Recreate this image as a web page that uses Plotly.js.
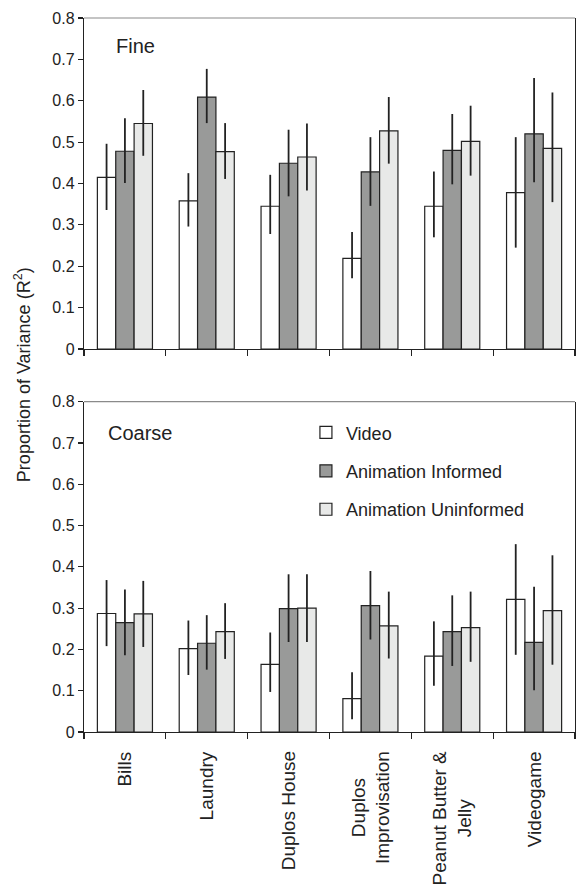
<!DOCTYPE html>
<html>
<head>
<meta charset="utf-8">
<script src="https://cdn.plot.ly/plotly-3.0.1.min.js"></script>
<style>html,body{margin:0;padding:0;background:#fff;}#chart{width:578px;height:887px;}</style>
</head>
<body>
<div id="chart"></div>
<script>
// ---- data ----
const categories = ['Bills', 'Laundry', 'Duplos House', 'Duplos Improvisation', 'Peanut Butter & Jelly', 'Videogame'];
const categoryLabels = ['Bills', 'Laundry', 'Duplos House', 'Duplos<br>Improvisation', 'Peanut Butter &<br>Jelly', 'Videogame'];
const seriesNames = ['Video', 'Animation Informed', 'Animation Uninformed'];

// Fine segmentation
const fineVideo = [0.415, 0.358, 0.345, 0.219, 0.345, 0.378];
const fineVideoErrPlus = [0.081, 0.067, 0.076, 0.064, 0.084, 0.134];
const fineVideoErrMinus = [0.079, 0.062, 0.067, 0.048, 0.075, 0.133];
const fineInformed = [0.478, 0.609, 0.449, 0.428, 0.480, 0.520];
const fineInformedErrPlus = [0.080, 0.068, 0.081, 0.084, 0.088, 0.135];
const fineInformedErrMinus = [0.077, 0.063, 0.080, 0.082, 0.082, 0.117];
const fineUninformed = [0.545, 0.477, 0.464, 0.527, 0.502, 0.485];
const fineUninformedErrPlus = [0.081, 0.069, 0.081, 0.082, 0.086, 0.135];
const fineUninformedErrMinus = [0.078, 0.066, 0.081, 0.079, 0.083, 0.130];

// Coarse segmentation
const coarseVideo = [0.287, 0.202, 0.164, 0.081, 0.184, 0.321];
const coarseVideoErrPlus = [0.081, 0.068, 0.077, 0.064, 0.084, 0.134];
const coarseVideoErrMinus = [0.079, 0.064, 0.067, 0.050, 0.072, 0.134];
const coarseInformed = [0.265, 0.215, 0.299, 0.306, 0.243, 0.217];
const coarseInformedErrPlus = [0.080, 0.068, 0.083, 0.084, 0.088, 0.135];
const coarseInformedErrMinus = [0.079, 0.064, 0.081, 0.082, 0.083, 0.116];
const coarseUninformed = [0.286, 0.243, 0.300, 0.257, 0.253, 0.294];
const coarseUninformedErrPlus = [0.080, 0.069, 0.082, 0.083, 0.087, 0.134];
const coarseUninformedErrMinus = [0.080, 0.066, 0.082, 0.079, 0.083, 0.131];

const yTickVals = [0, 0.1, 0.2, 0.3, 0.4, 0.5, 0.6, 0.7, 0.8];
const yTickText = ['0', '0.1', '0.2', '0.3', '0.4', '0.5', '0.6', '0.7', '0.8'];

// ---- styling ----
const fills = ['#ffffff', '#999a99', '#e8e9e8'];
const FONT = 'Liberation Sans, Arial, sans-serif';
const ink = '#222222';

function barTrace(name, y, ep, em, idx, xa, ya, showLegend) {
  return {
    type: 'bar', name: name, x: categories, y: y,
    xaxis: xa, yaxis: ya,
    legendgroup: 'g' + idx, showlegend: showLegend,
    marker: {color: fills[idx], line: {color: ink, width: 1.2}},
    error_y: {type: 'data', array: ep, arrayminus: em, symmetric: false,
              color: ink, thickness: 1.8, width: 0},
    hoverinfo: 'x+y'
  };
}

const traces = [
  barTrace(seriesNames[0], fineVideo, fineVideoErrPlus, fineVideoErrMinus, 0, 'x', 'y', false),
  barTrace(seriesNames[1], fineInformed, fineInformedErrPlus, fineInformedErrMinus, 1, 'x', 'y', false),
  barTrace(seriesNames[2], fineUninformed, fineUninformedErrPlus, fineUninformedErrMinus, 2, 'x', 'y', false),
  barTrace(seriesNames[0], coarseVideo, coarseVideoErrPlus, coarseVideoErrMinus, 0, 'x2', 'y2', true),
  barTrace(seriesNames[1], coarseInformed, coarseInformedErrPlus, coarseInformedErrMinus, 1, 'x2', 'y2', true),
  barTrace(seriesNames[2], coarseUninformed, coarseUninformedErrPlus, coarseUninformedErrMinus, 2, 'x2', 'y2', true)
];

const xCommon = {
  type: 'category', showline: true, linecolor: ink, linewidth: 1.2, mirror: false,
  ticks: 'outside', tickson: 'boundaries', ticklen: 6, tickcolor: ink, tickwidth: 1.2,
  showgrid: false, zeroline: false, showticklabels: false, fixedrange: true
};
const yCommon = {
  range: [0, 0.8], tickmode: 'array', tickvals: yTickVals, ticktext: yTickText,
  showline: true, linecolor: ink, linewidth: 1.2, mirror: true,
  ticks: 'outside', ticklen: 5, tickcolor: ink, tickwidth: 1.2,
  showgrid: false, zeroline: false,
  tickfont: {family: FONT, size: 16, color: ink}, fixedrange: true
};

const annotations = [
  {text: 'Fine', xref: 'paper', yref: 'paper', x: 0.061, y: 0.961, xanchor: 'left', yanchor: 'middle',
   showarrow: false, font: {family: FONT, size: 20, color: ink}},
  {text: 'Coarse', xref: 'paper', yref: 'paper', x: 0.045, y: 0.419, xanchor: 'left', yanchor: 'middle',
   showarrow: false, font: {family: FONT, size: 20, color: ink}},
  {text: 'Proportion of Variance (R<sup>2</sup>)', xref: 'paper', yref: 'paper', x: -0.126, y: 0.5,
   xanchor: 'center', yanchor: 'middle', textangle: -90, showarrow: false,
   font: {family: FONT, size: 18, color: ink}}
];
categories.forEach((c, i) => {
  annotations.push({
    text: categoryLabels[i], x: c, xref: 'x2', yref: 'paper', y: -0.024,
    xanchor: 'center', yanchor: 'top', textangle: -90, align: 'center',
    showarrow: false, font: {family: FONT, size: 19, color: ink}
  });
});

// light grey top border of each panel
const shapes = [
  {type: 'line', xref: 'x domain', yref: 'y domain', x0: 0, x1: 1, y0: 1, y1: 1,
   line: {color: '#8a8a8a', width: 1.2}},
  {type: 'line', xref: 'x2 domain', yref: 'y2 domain', x0: 0, x1: 1, y0: 1, y1: 1,
   line: {color: '#8a8a8a', width: 1.2}}
];

const layout = {
  width: 578, height: 887,
  margin: {l: 84, r: 3, t: 18, b: 155},
  paper_bgcolor: '#ffffff', plot_bgcolor: '#ffffff',
  barmode: 'group', bargap: 0.327, bargroupgap: 0,
  font: {family: FONT, color: ink},
  showlegend: true,
  legend: {x: 0.452, y: 0.445, xanchor: 'left', yanchor: 'top', traceorder: 'grouped',
           tracegroupgap: 12, bgcolor: 'rgba(0,0,0,0)', itemwidth: 30,
           font: {family: FONT, size: 18, color: ink}},
  xaxis: Object.assign({}, xCommon, {domain: [0, 1], anchor: 'y'}),
  yaxis: Object.assign({}, yCommon, {domain: [0.5364, 1], anchor: 'x'}),
  xaxis2: Object.assign({}, xCommon, {domain: [0, 1], anchor: 'y2'}),
  yaxis2: Object.assign({}, yCommon, {domain: [0, 0.4626], anchor: 'x2'}),
  annotations: annotations,
  shapes: shapes
};

Plotly.newPlot('chart', traces, layout, {staticPlot: true, displayModeBar: false});
</script>
</body>
</html>
